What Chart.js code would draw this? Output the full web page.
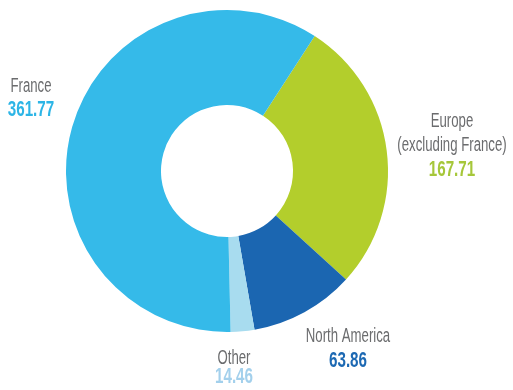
<!DOCTYPE html>
<html>
<head>
<meta charset="utf-8">
<script src="https://cdn.jsdelivr.net/npm/chart.js@4.4.1/dist/chart.umd.min.js"></script>
<style>
  html, body { margin: 0; padding: 0; background: #ffffff; }
  #wrap { position: relative; width: 513px; height: 390px; }
</style>
</head>
<body>
<div id="wrap"><canvas id="c" width="513" height="390"></canvas></div>
<script>
// ---- data ----
const categories = ["Europe (excluding France)", "North America", "Other", "France"];
const labelLines = [["Europe", "(excluding France)"], ["North America"], ["Other"], ["France"]];
const values = [167.71, 63.86, 14.46, 361.77];
const valueLabels = ["167.71", "63.86", "14.46", "361.77"];
const sliceColors = ["#b3ce2c", "#1b66b1", "#a8dcef", "#35bae9"];
const valueColors = ["#a6c73a", "#1d69b3", "#a3d0ec", "#2db5e6"];

// ---- label layout (text positions only) ----
const labelLayout = [
  { x: 452, lines: [127, 151], value: 176 },
  { x: 348, lines: [342], value: 367 },
  { x: 234, lines: [364], value: 383 },
  { x: 31,  lines: [92], value: 116 }
];

const labelPlugin = {
  id: 'sideLabels',
  afterDraw(chart) {
    const ctx = chart.ctx;
    ctx.save();
    ctx.textAlign = 'center';
    ctx.textBaseline = 'alphabetic';
    labelLayout.forEach((lay, i) => {
      labelLines[i].forEach((t, j) => {
        ctx.save();
        ctx.translate(lay.x, lay.lines[j]);
        ctx.scale(0.66, 1);
        ctx.font = '300 20px "Liberation Sans", Arial, sans-serif';
        ctx.fillStyle = '#6b6c6e';
        ctx.fillText(t, 0, 0);
        ctx.restore();
      });
      ctx.save();
      ctx.translate(lay.x, lay.value);
      ctx.scale(0.69, 1);
      ctx.font = 'bold 22px "Liberation Sans", Arial, sans-serif';
      ctx.fillStyle = valueColors[i];
      ctx.fillText(valueLabels[i], 0, 0);
      ctx.restore();
    });
    ctx.restore();
  }
};

new Chart(document.getElementById('c'), {
  type: 'doughnut',
  data: {
    labels: categories,
    datasets: [{
      data: values,
      backgroundColor: sliceColors,
      borderWidth: 0
    }]
  },
  options: {
    responsive: false,
    animation: false,
    rotation: 33,
    cutout: '41%',
    layout: { padding: { top: 10, bottom: 58, left: 30, right: 89 } },
    plugins: { legend: { display: false }, tooltip: { enabled: false } }
  },
  plugins: [labelPlugin]
});
</script>
</body>
</html>
